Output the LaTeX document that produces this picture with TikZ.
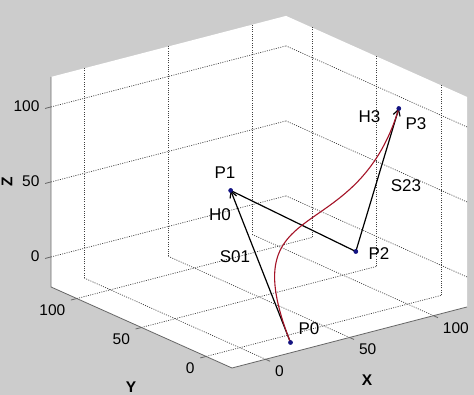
\documentclass[tikz,border=0pt]{standalone}
\usepackage{fontspec}
\setmainfont{Liberation Sans}
\usetikzlibrary{arrows.meta}
\definecolor{figbg}{RGB}{204,204,204}
\definecolor{curvered}{RGB}{165,20,40}
\definecolor{ptblue}{RGB}{20,20,130}
\begin{document}
\begin{tikzpicture}[x=1pt, y=-1pt,
  font=\fontsize{15.5}{18}\selectfont,
  gridline/.style={black!75, line width=0.7pt, dash pattern=on 1pt off 1.3pt},
  axisline/.style={black!60, line width=0.8pt},
  ctrlpt/.style={circle, fill=ptblue, inner sep=0pt, minimum size=4.5pt},
  ptlabel/.style={font=\fontsize{17}{20}\selectfont},
  vec/.style={line width=1.2pt},
  tip/.style={-{Straight Barb[length=6pt,width=7pt]}},
  curve/.style={curvered, line width=1.1pt}]
\fill[figbg] (0,0) rectangle (474,395);
\useasboundingbox (0,0) rectangle (474,395);

% the box, in data coordinates
\begin{scope}[shift={(239.7,317.7)}, x={(1.679pt,0.436pt)}, y={(-1.293pt,0.579pt)}, z={(0pt,1.5pt)}]
  \fill[white] (-20,120,120) -- (120,120,120) -- (120,-20,120) -- (120,-20,-20)
    -- (-20,-20,-20) -- (-20,120,-20) -- cycle;
  \foreach \v in {0,50,100} {
    % back walls
    \draw[gridline] (\v,120,-20) -- (\v,120,120);
    \draw[gridline] (-20,120,\v) -- (120,120,\v);
    \draw[gridline] (120,\v,-20) -- (120,\v,120);
    \draw[gridline] (120,-20,\v) -- (120,120,\v);
    % floor
    \draw[gridline] (\v,-20,-20) -- (\v,120,-20);
    \draw[gridline] (-20,\v,-20) -- (120,\v,-20);
    % ticks and labels
    \draw[axisline] (-20,120,\v) -- (-23.5,120,\v);
    \draw[axisline] (-20,\v,-20) -- (-23.5,\v,-20);
    \draw[axisline] (\v,-20,-20) -- (\v,-23.5,-20);
    \node[anchor=east, xshift=-8pt, yshift=1pt] at (-20,120,\v) {\v};
    \node[anchor=east, xshift=-8pt, yshift=-12pt] at (-20,\v,-20) {\v};
    \node[anchor=west, xshift=6pt, yshift=-12pt] at (\v,-20,-20) {\v};
  }
  \draw[axisline] (-20,120,120) -- (-20,120,-20) -- (-20,-20,-20) -- (120,-20,-20);
\end{scope}

% axis names
\node (xname) at (367,380) {\textbf{X}};
\node (yname) at (131,387) {\textbf{Y}};
\node[rotate=90] (zname) at (7,182) {\textbf{Z}};

% Define the nodes
\node[ctrlpt] (p0) at (290.5,342.5) {};
\node[ctrlpt] (p1) at (230.7,190.5) {};
\node[ctrlpt] (p2) at (355.8,251.5) {};
\node[ctrlpt] (p3) at (398.8,108.5) {};
\node[ptlabel] (p0lbl) at (309,329) {P0};
\node[ptlabel] (p1lbl) at (225,172.5) {P1};
\node[ptlabel] (p2lbl) at (379,253.5) {P2};
\node[ptlabel] (p3lbl) at (416,123.5) {P3};
\node[ptlabel] (h0lbl) at (220,215) {H0};
\node[ptlabel] (h3lbl) at (369.5,116.5) {H3};
\node[ptlabel] (s01lbl) at (235,257) {S01};
\node[ptlabel] (s23lbl) at (406,185.5) {S23};

% Connect the nodes
\draw[vec, tip] (p0.center) -- (p1.center);
\draw[vec] (p1.center) -- (p2.center);
\draw[vec, tip] (p2.center) -- (p3.center);
\draw[curve] (p0.center) .. controls (p1.center) and (p2.center) .. (p3.center);
\foreach \p in {p0,p1,p2,p3}
  \node[ctrlpt] at (\p) {};
\end{tikzpicture}
\end{document}
